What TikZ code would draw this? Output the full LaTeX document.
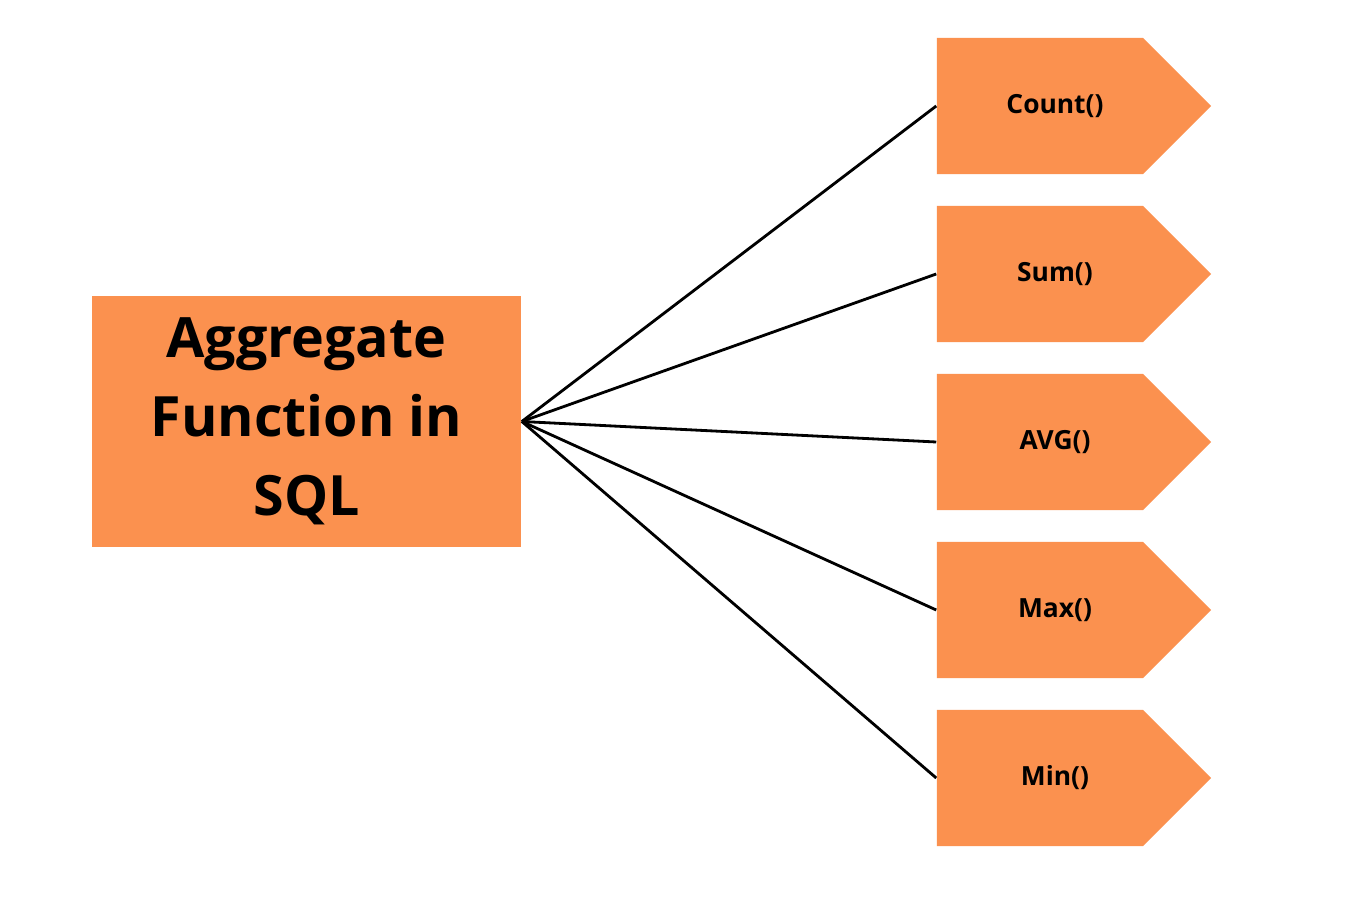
\documentclass[tikz,border=0pt]{standalone}
\usepackage{fontspec}
\setmainfont{Open Sans}
\usetikzlibrary{shapes.symbols}
\definecolor{aggorange}{HTML}{FB914F}
\tikzset{
  mainbox/.style={fill=aggorange,minimum width=4.29cm,minimum height=2.51cm,
    align=center,font=\bfseries\fontsize{15.8}{22.5}\selectfont},
  funcbox/.style={signal,signal to=east,signal pointer angle=90,fill=aggorange,
    minimum width=2.74cm,minimum height=1.36cm,inner sep=0pt,
    font=\bfseries\fontsize{7.5}{9}\selectfont},
  link/.style={line width=0.8pt}
}
\begin{document}
\begin{tikzpicture}[x=0.01cm,y=-0.01cm]
      \useasboundingbox (0,0) rectangle (1358,916);

      \node[mainbox] (agg) at (306.5,421.5) {Aggregate\\Function in\\SQL}; % left box

      \node[funcbox] (count) at (1040,106) {\hspace*{0.3cm}Count()};
      \node[funcbox] (sum) at (1040,274) {\hspace*{0.3cm}Sum()};
      \node[funcbox] (avg) at (1040,442) {\hspace*{0.3cm}AVG()};
      \node[funcbox] (max) at (1040,610) {\hspace*{0.3cm}Max()};
      \node[funcbox] (min) at (1040,778) {\hspace*{0.3cm}Min()};

      \foreach \f in {count,sum,avg,max,min}
      \draw[link] (agg.east) -- (\f.west);

    \end{tikzpicture}
\end{document}
